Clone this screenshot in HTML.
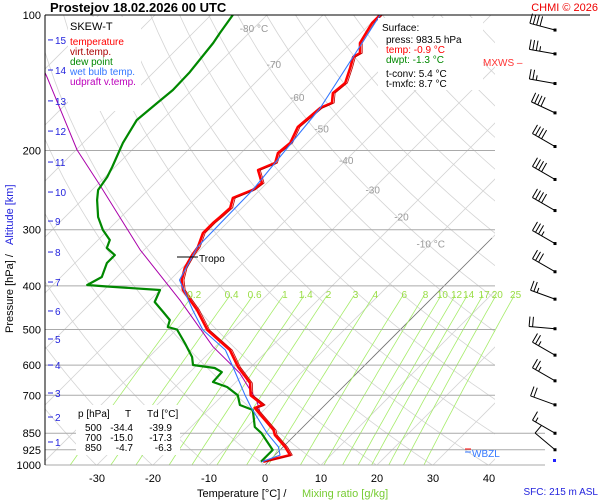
<!DOCTYPE html>
<html><head><meta charset="utf-8"><style>
html,body{margin:0;background:#fff;width:600px;height:500px;overflow:hidden}
svg{display:block;font-family:"Liberation Sans",sans-serif}
</style></head><body>
<svg id="c" width="600" height="500" viewBox="0 0 600 500" xmlns="http://www.w3.org/2000/svg">
<defs><clipPath id="pc"><rect x="45" y="15" width="450" height="450"/></clipPath><clipPath id="pc2"><rect x="45" y="15" width="480" height="450"/></clipPath></defs>
<g id="grid" clip-path="url(#pc)"></g>
<g id="mix" clip-path="url(#pc2)"></g>
<g id="hlines"></g>
<g id="series" clip-path="url(#pc)"></g>
<g>
<rect x="68" y="17" width="73" height="94" fill="#fff"/>
<text x="70" y="30" font-size="11">SKEW-T</text>
<text x="70" y="45" font-size="10" fill="#f00">temperature</text>
<text x="70" y="55" font-size="10" fill="#a00">virt.temp.</text>
<text x="70" y="65" font-size="10" fill="#080">dew point</text>
<text x="70" y="75" font-size="10" fill="#37f">wet bulb temp.</text>
<text x="70" y="85" font-size="10" fill="#b0b">udpraft v.temp.</text>
</g>
<g id="axes"></g>
<g id="barbs"></g>
<text x="50" y="12" font-size="13" font-weight="bold">Prostejov    18.02.2026 00 UTC</text>
<text x="598" y="11" font-size="11" fill="#e00" text-anchor="end">CHMI © 2026</text>
<g>
<rect x="378" y="18" width="105" height="72" fill="#fff"/>
<text x="382" y="31" font-size="10">Surface:</text>
<text x="386" y="43" font-size="10">press: 983.5 hPa</text>
<text x="386" y="53" font-size="10" fill="#f00">temp: -0.9 °C</text>
<text x="386" y="63" font-size="10" fill="#080">dwpt: -1.3 °C</text>
<text x="386" y="77" font-size="10">t-conv: 5.4 °C</text>
<text x="386" y="87" font-size="10">t-mxfc: 8.7 °C</text>
</g>
<g font-size="10">
<rect x="76" y="405" width="104" height="50" fill="#fff"/>
<text x="78" y="417">p [hPa]</text><text x="125" y="417">T</text><text x="147" y="417">Td [°C]</text>
<text x="85" y="431">500</text><text x="133" y="431" text-anchor="end">-34.4</text><text x="172" y="431" text-anchor="end">-39.9</text>
<text x="85" y="441">700</text><text x="133" y="441" text-anchor="end">-15.0</text><text x="172" y="441" text-anchor="end">-17.3</text>
<text x="85" y="451">850</text><text x="133" y="451" text-anchor="end">-4.7</text><text x="172" y="451" text-anchor="end">-6.3</text>
</g>
<text x="472" y="457" font-size="10" fill="#37f">WBZL</text>
<line x1="465" y1="449" x2="471" y2="449" stroke="#f00"/>
<line x1="465" y1="452" x2="471" y2="452" stroke="#37f"/>
<text x="483" y="66" font-size="10" fill="#f33">MXWS –</text>
<text x="199" y="262" font-size="10">Tropo</text>
<line x1="177" y1="257" x2="198" y2="257" stroke="#000"/>
<text x="197" y="497" font-size="11">Temperature [°C]  /</text>
<text x="302" y="497" font-size="11" fill="#7c3">Mixing ratio [g/kg]</text>
<text x="598" y="495" font-size="10" fill="#22d" text-anchor="end">SFC: 215 m ASL</text>
<text transform="translate(13,333) rotate(-90)" font-size="11">Pressure [hPa]  /</text>
<text transform="translate(13,245) rotate(-90)" font-size="11" fill="#22d">Altitude [km]</text>
</svg>
<script>
const tempP=[100,104.2,115.4,121.5,124.0,131.1,141.6,149.1,156.8,160.9,177.4,192.4,202.6,213.3,221.1,236.3,244.9,255.1,268.5,281.1,289.9,305.1,327.9,341.6,365.0,388.0,408.4,452.4,501.2,555.2,605.8,657.4,700,735.6,747.0,836.2,857.6,912.0,950.4,983.5];
const tempT=[-59.8,-59.8,-58.4,-56.6,-57.1,-55.7,-53.9,-54.3,-52.7,-53.9,-54.5,-53.0,-53.4,-52.1,-53.9,-50.9,-51.3,-53.4,-52.1,-52.3,-52.5,-52.5,-50.9,-50.5,-49.5,-47.9,-45.9,-39.8,-34.4,-26.8,-22.3,-17.3,-15.0,-11.1,-12.0,-4.7,-3.6,0.4,2.7,-0.9];
const dewP=[100,109.6,115.4,133.9,146.8,156.8,171.1,192.4,217.7,229.1,244.9,257.7,281.1,300.5,316.2,329.4,341.6,355.7,382.2,398.1,401,408.4,434.3,457.1,476.2,493.6,500,535.7,575.4,599.6,608.7,621.6,654.0,670.9,700,735.6,754.6,823.5,850,926.3,983.5];
const dewT=[-86.1,-85.2,-84.6,-83.6,-83.4,-83.9,-84.5,-82.9,-80.5,-79.6,-78.9,-77.3,-74.1,-70.9,-67.9,-67.0,-64.3,-64.3,-62.7,-63.9,-60.4,-50.0,-48.8,-45.5,-42.9,-42.0,-39.9,-36.1,-32.3,-30.7,-26.3,-24.3,-24.1,-20.7,-17.3,-15.2,-12.0,-8.6,-6.3,-1.3,-1.3];
const wbP=[100,160.9,244.9,327.9,388.0,452.4,501.2,555.2,605.8,700,747.0,850,912.0,950.4,983.5];
const wbT=[-59.8,-53.9,-51.3,-51.0,-48.3,-40.6,-35.2,-27.6,-23.2,-16.0,-12.6,-5.3,-0.8,0.9,-1.1];
const parcelP=[130,137.4,199.5,238.6,332.7,430.4,546.0,624.9,718.8,760];
const parcelT=[-111,-108.2,-89.8,-79.5,-60.7,-44.6,-30.4,-20.9,-13.0,-10.5];
const pLevels=[100,200,300,400,500,600,700,850,925,1000];
const tTicks=[-30,-20,-10,0,10,20,30,40];
const kmTicks=[1,2,3,4,5,6,7,8,9,10,11,12,13,14,15];
const kmP=[888.9,782.3,691.8,599.6,524.8,454.7,392.1,336.3,287.0,247.4,212.2,181.1,155.2,132.5,113.6];
const isoLabels=[-80,-70,-60,-50,-40,-30,-20,-10];
const isoLabelP=[106.9,128.6,152.0,178.7,209.8,244.0,280.5,321.6];
const mixW=[0.2,0.4,0.6,1,1.4,2,3,4,6,8,10,12,14,17,20,25];
const windP=[108,122,142,165,196,232,272,322,372,428,498,570,650,735,850,925];
const windDir=[285,280,280,295,300,300,300,300,300,290,275,300,300,290,300,310];
const windKt=[40,35,25,40,40,40,40,35,30,25,20,25,25,20,15,10];

const NS="http://www.w3.org/2000/svg";
function yOf(p){return 15+450*Math.log10(p/100);}
function xOf(t,p){return 265+5.6*t+(465-yOf(p));}
function mk(tag,attrs,parent){const e=document.createElementNS(NS,tag);for(const k in attrs)e.setAttribute(k,attrs[k]);parent.appendChild(e);return e;}
const grid=document.getElementById('grid'),mix=document.getElementById('mix'),hl=document.getElementById('hlines'),ser=document.getElementById('series'),ax=document.getElementById('axes'),bb=document.getElementById('barbs');
for(let t=-130;t<=40;t+=10){
  const l=mk('line',{x1:265+5.6*t,y1:465,x2:265+5.6*t+450,y2:15,stroke:'#d4d4d4','stroke-width':0.8},grid);
  
  
}
for(let th=213;th<=503;th+=10){
  let d='';
  for(let p=1000;p>=100;p-=10){const t=th*Math.pow(p/1000,0.286)-273.15;d+=(d?'L':'M')+xOf(t,p).toFixed(1)+','+yOf(p).toFixed(1);}
  const pa=mk('path',{d:d,fill:'none',stroke:'#d4d4d4','stroke-width':0.8},grid);
  
  
}
const z=mk('line',{x1:265,y1:465,x2:492,y2:238,stroke:'#777','stroke-width':0.8},grid);


isoLabels.forEach((t,i)=>{
  const p=isoLabelP[i];
  const tx=mk('text',{x:xOf(t,p),y:yOf(p)+4,'font-size':10,fill:'#999','text-anchor':'middle'},ax);
  tx.textContent=(t===-80||t===-10)?t+' °C':String(t);
  
  
});
mixW.forEach(w=>{
  let d='';
  for(let p=1000;p>=420;p-=20){const e=w*p/(622+w);const L=Math.log(e/6.112);const t=243.5*L/(17.67-L);d+=(d?'L':'M')+xOf(t,p).toFixed(1)+','+yOf(p).toFixed(1);}
  const pa=mk('path',{d:d,fill:'none',stroke:'#a6ec6a','stroke-width':0.8},mix);
  
  
  const e=w*415/(622+w);const L=Math.log(e/6.112);const t=243.5*L/(17.67-L);
  const tx=mk('text',{x:xOf(t,415),y:298,'font-size':10,fill:'#9d4','text-anchor':'middle'},ax);
  tx.textContent=String(w);
  
  
});
pLevels.forEach(p=>{
  const y=yOf(p);
  const ext=(p>=850)?545:495;
  const l=mk('line',{x1:45,y1:y,x2:ext,y2:y,stroke:'#aaa','stroke-width':1},hl);
  
  
  const tx=mk('text',{x:41,y:y+4,'font-size':11,'text-anchor':'end'},ax);
  tx.textContent=String(p);
  
  
});
const la=mk('line',{x1:45,y1:15,x2:45,y2:465,stroke:'#000'},ax);


const ta=mk('line',{x1:45,y1:15,x2:590,y2:15,stroke:'#000'},ax);


tTicks.forEach(t=>{
  const tx=mk('text',{x:265+5.6*t,y:482,'font-size':11,'text-anchor':'middle'},ax);
  tx.textContent=String(t);
  
  
});
kmTicks.forEach((k,i)=>{
  const y=yOf(kmP[i]);
  const l=mk('line',{x1:48,y1:y,x2:53,y2:y,stroke:'#22d'},ax);
  
  
  const tx=mk('text',{x:55,y:y+4,'font-size':10,fill:'#22d'},ax);
  tx.textContent=String(k);
  
  
});
function line(P,T,color,w,name){
  let d='';P.forEach((p,i)=>{d+=(i?'L':'M')+xOf(T[i],p).toFixed(1)+','+yOf(p).toFixed(1);});
  const pa=mk('path',{d:d,fill:'none',stroke:color,'stroke-width':w,'stroke-linejoin':'round'},ser);
  
  
}
line(parcelP,parcelT,'#a0a',1,'updraft-line');
line(dewP,dewT,'#080',2.2,'dewpoint-line');
line(tempP,tempT,'#f00',2.6,'temperature-line');
line(tempP,tempT.map(v=>v+0.4),'#b00',0.8,'virtual-temperature-line');
line(wbP,wbT,'#37f',1.1,'wetbulb-line');
windP.forEach((p,i)=>{
  const y=yOf(p), x=555;
  const g=mk('g',{},bb);
  
  
  const d=windDir[i]*Math.PI/180;
  const sx=Math.sin(d), sy=-Math.cos(d);
  const L=26, ex=x+L*sx, ey=y+L*sy;
  mk('line',{x1:x,y1:y,x2:ex,y2:ey,stroke:'#000','stroke-width':1},g);
  mk('rect',{x:x-1.5,y:y-1.5,width:3,height:3,fill:'#000'},g);
  const fx=Math.cos(d), fy=Math.sin(d);
  let s=windKt[i],pos=0;
  while(s>=10){const bx=ex-pos*sx*3.5,by=ey-pos*sy*3.5;
    mk('line',{x1:bx,y1:by,x2:bx+10*fx,y2:by+10*fy,stroke:'#000'},g);s-=10;pos++;}
  if(s>=5){const bx=ex-pos*sx*3.5,by=ey-pos*sy*3.5;mk('line',{x1:bx,y1:by,x2:bx+5*fx,y2:by+5*fy,stroke:'#000'},g);}
});
const sd=mk('rect',{x:553,y:459,width:3,height:3,fill:'#22f'},bb);


</script>
</body></html>
